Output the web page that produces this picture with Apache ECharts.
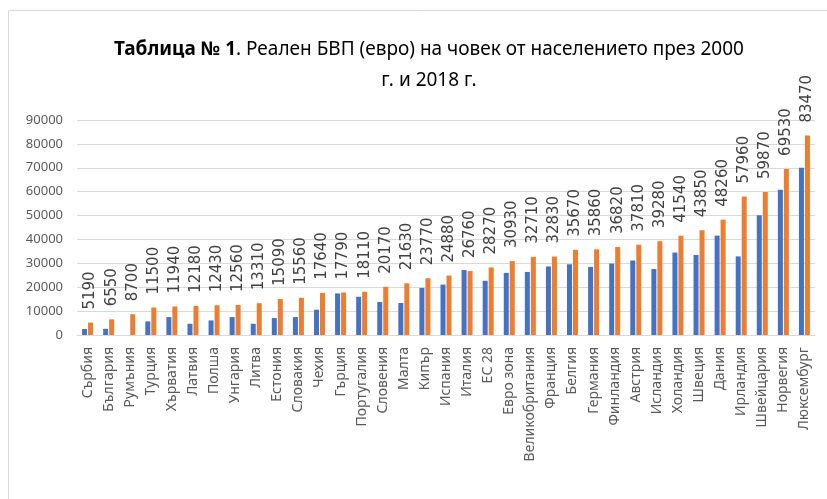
<!DOCTYPE html>
<html>
<head>
<meta charset="utf-8">
<script src="https://cdn.jsdelivr.net/npm/echarts@6/dist/echarts.min.js"></script>
<style>
  html, body { margin: 0; padding: 0; background: #fff; }
  #chart { width: 827px; height: 499px; }
</style>
</head>
<body>
<div id="chart"></div>
<script>
// categories (countries)
const countries = [
  "Сърбия", "България", "Румъния", "Турция", "Хърватия", "Латвия", "Полша",
  "Унгария", "Литва", "Естония", "Словакия", "Чехия", "Гърция", "Португалия",
  "Словения", "Малта", "Кипър", "Испания", "Италия", "ЕС 28", "Евро зона",
  "Великобритания", "Франция", "Белгия", "Германия", "Финландия", "Австрия",
  "Исландия", "Холандия", "Швеция", "Дания", "Ирландия", "Швейцария",
  "Норвегия", "Люксембург"
];
// 2000 values (no labels in the picture)
const gdp2000 = [
  2500, 2600, null, 5700, 7500, 4700, 6100, 7500, 4700, 7100, 7500, 10600,
  17400, 16000, 13800, 13400, 19700, 21100, 27200, 22700, 26000, 26400,
  28700, 29600, 28500, 29900, 31200, 27600, 34500, 33500, 41600, 32900,
  50100, 60800, 70000
];
// 2018 values (labelled)
const gdp2018 = [
  5190, 6550, 8700, 11500, 11940, 12180, 12430, 12560, 13310, 15090, 15560,
  17640, 17790, 18110, 20170, 21630, 23770, 24880, 26760, 28270, 30930,
  32710, 32830, 35670, 35860, 36820, 37810, 39280, 41540, 43850, 48260,
  57960, 59870, 69530, 83470
];

const chart = echarts.init(document.getElementById("chart"));
const option = {
  backgroundColor: "#fff",
  animation: false,
  graphic: [
    {
      type: "rect",
      shape: { x: 8.5, y: 10.5, width: 840, height: 520 },
      style: { fill: "none", stroke: "#d9d9d9", lineWidth: 1 },
      silent: true
    }
  ],
  title: {
    text: "{b|Таблица № 1}. Реален БВП (евро) на човек от населението през 2000\nг. и 2018 г.",
    left: 424,
    textAlign: "center",
    top: 29,
    textStyle: {
      fontFamily: "Noto Sans",
      fontSize: 19,
      fontWeight: "normal",
      color: "#000",
      lineHeight: 31,
      rich: {
        b: { fontFamily: "Noto Sans", fontSize: 19, fontWeight: "bold", color: "#000", lineHeight: 31 }
      }
    }
  },
  grid: { left: 77, right: 12, top: 120, bottom: 164 },
  xAxis: {
    type: "category",
    data: countries,
    axisLine: { lineStyle: { color: "#d9d9d9", width: 1 } },
    axisTick: { show: false },
    axisLabel: {
      rotate: 90,
      interval: 0,
      margin: 12,
      color: "#595959",
      fontFamily: "Noto Sans",
      fontSize: 14
    }
  },
  yAxis: {
    type: "value",
    min: 0,
    max: 90000,
    interval: 10000,
    axisLine: { show: false },
    axisTick: { show: false },
    splitLine: { lineStyle: { color: "#d9d9d9", width: 1 } },
    axisLabel: {
      margin: 14,
      color: "#595959",
      fontFamily: "Noto Sans",
      fontSize: 13,
      formatter: (v) => String(v)
    }
  },
  series: [
    {
      name: "2000",
      type: "bar",
      data: gdp2000,
      barWidth: 5,
      barGap: "20%",
      itemStyle: { color: "#4472C4" }
    },
    {
      name: "2018",
      type: "bar",
      data: gdp2018,
      barWidth: 5,
      itemStyle: { color: "#ED7D31" },
      label: {
        show: true,
        position: "top",
        rotate: 90,
        align: "left",
        verticalAlign: "middle",
        distance: 13,
        color: "#404040",
        fontFamily: "DejaVu Sans",
        fontSize: 15
      }
    }
  ]
};
chart.setOption(option);
</script>
</body>
</html>
